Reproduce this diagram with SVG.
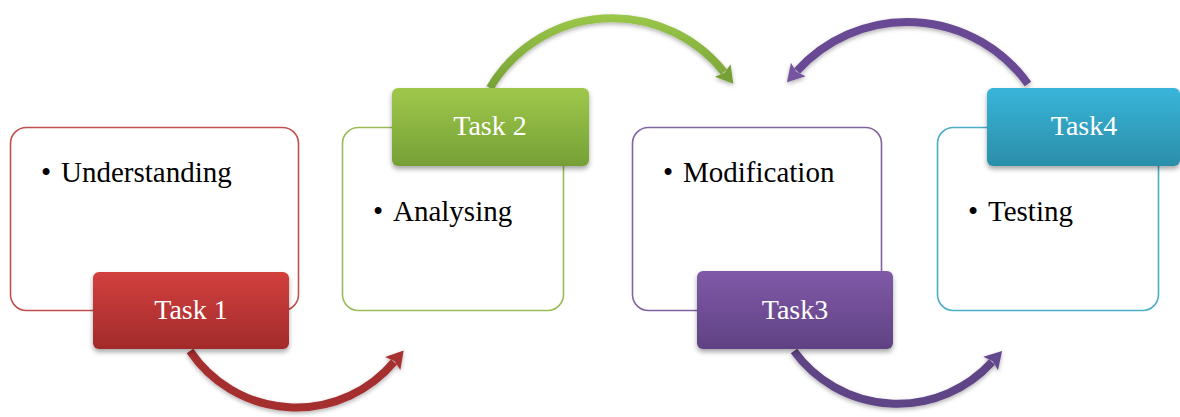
<svg xmlns="http://www.w3.org/2000/svg" width="1180" height="417" viewBox="0 0 1180 417">
<defs>
<style>
.box{fill:#ffffff;stroke-width:1.6}
.lbl{font-family:"Liberation Serif","Times New Roman",serif;font-size:28px;fill:#ffffff;text-anchor:middle}
.txt{font-family:"Liberation Serif","Times New Roman",serif;font-size:29px;fill:#000000}
.arc{fill:none;stroke-width:8;stroke-linecap:butt}
</style>
<filter id="sh" x="-20%" y="-20%" width="140%" height="160%">
<feDropShadow dx="0" dy="3" stdDeviation="2.5" flood-color="#000000" flood-opacity="0.35"/>
</filter>
<filter id="ash" x="-20%" y="-20%" width="140%" height="160%">
<feDropShadow dx="0" dy="2" stdDeviation="2" flood-color="#000000" flood-opacity="0.3"/>
</filter>
<linearGradient id="gRed" x1="0" y1="0" x2="0" y2="1">
<stop offset="0" stop-color="#d2403e"/><stop offset="1" stop-color="#a22b2b"/>
</linearGradient>
<linearGradient id="gGreen" x1="0" y1="0" x2="0" y2="1">
<stop offset="0" stop-color="#9fc84b"/><stop offset="1" stop-color="#76a036"/>
</linearGradient>
<linearGradient id="gPurple" x1="0" y1="0" x2="0" y2="1">
<stop offset="0" stop-color="#8059a8"/><stop offset="1" stop-color="#5f4283"/>
</linearGradient>
<linearGradient id="gTeal" x1="0" y1="0" x2="0" y2="1">
<stop offset="0" stop-color="#38b5d9"/><stop offset="1" stop-color="#2b8ea9"/>
</linearGradient>
<linearGradient id="aGreen" gradientUnits="userSpaceOnUse" x1="0" y1="12" x2="0" y2="90">
<stop offset="0" stop-color="#9cc84a"/><stop offset="1" stop-color="#76a036"/>
</linearGradient>
<marker id="mRed" markerUnits="userSpaceOnUse" markerWidth="22" markerHeight="22" refX="2" refY="0" viewBox="0 -11 20 22" orient="auto">
<path d="M0,-10 L17,0 L0,10 L3,0 Z" fill="#a83030"/>
</marker>
<marker id="mGreen" markerUnits="userSpaceOnUse" markerWidth="22" markerHeight="22" refX="2" refY="0" viewBox="0 -11 20 22" orient="auto">
<path d="M0,-10 L17,0 L0,10 L3,0 Z" fill="#76a036"/>
</marker>
<marker id="mPurple" markerUnits="userSpaceOnUse" markerWidth="22" markerHeight="22" refX="2" refY="0" viewBox="0 -11 20 22" orient="auto">
<path d="M0,-10 L17,0 L0,10 L3,0 Z" fill="#7455a0"/>
</marker>
<marker id="mPurple2" markerUnits="userSpaceOnUse" markerWidth="22" markerHeight="22" refX="2" refY="0" viewBox="0 -11 20 22" orient="auto">
<path d="M0,-10 L17,0 L0,10 L3,0 Z" fill="#644890"/>
</marker>
</defs>
<rect width="1180" height="417" fill="#ffffff"/>

<g id="connectors">
<path class="arc" filter="url(#ash)" d="M190,351 A128,128 0 0,0 394,362" stroke="#a52e2e" marker-end="url(#mRed)"/>
<path class="arc" filter="url(#ash)" d="M490,88 A142.4,142.4 0 0,1 724,72" stroke="url(#aGreen)" marker-end="url(#mGreen)"/>
<path class="arc" filter="url(#ash)" d="M1028,84 A148.5,148.5 0 0,0 797,71" stroke="#6a4a94" stroke-width="7" marker-end="url(#mPurple)"/>
<path class="arc" filter="url(#ash)" d="M794,351 A128,128 0 0,0 992,362" stroke="#5f4485" marker-end="url(#mPurple2)"/>
</g>

<g id="node1">
<rect class="box" x="10.5" y="127.5" width="288" height="183" rx="16" stroke="#c0504d"/>
<text class="txt" x="41" y="182">•<tspan x="61">Understanding</tspan></text>
<rect x="93" y="272" width="196" height="77" rx="6" fill="url(#gRed)" filter="url(#sh)"/>
<text class="lbl" x="191" y="319">Task 1</text>
</g>

<g id="node2">
<rect class="box" x="342.5" y="127.5" width="221" height="183" rx="16" stroke="#9bbb59"/>
<rect x="392" y="88" width="197" height="78" rx="6" fill="url(#gGreen)" filter="url(#sh)"/>
<text class="lbl" x="490" y="135">Task 2</text>
<text class="txt" x="373" y="221">•<tspan x="393">Analysing</tspan></text>
</g>

<g id="node3">
<rect class="box" x="632.5" y="127.5" width="249" height="183" rx="16" stroke="#8064a2"/>
<text class="txt" x="663" y="182">•<tspan x="683">Modification</tspan></text>
<rect x="697" y="271" width="196" height="78" rx="6" fill="url(#gPurple)" filter="url(#sh)"/>
<text class="lbl" x="795" y="319">Task3</text>
</g>

<g id="node4">
<rect class="box" x="937.5" y="127.5" width="221" height="183" rx="16" stroke="#4bacc6"/>
<rect x="987" y="88" width="193" height="78" rx="6" fill="url(#gTeal)" filter="url(#sh)"/>
<text class="lbl" x="1084" y="135">Task4</text>
<text class="txt" x="968" y="221">•<tspan x="988">Testing</tspan></text>
</g>
</svg>
